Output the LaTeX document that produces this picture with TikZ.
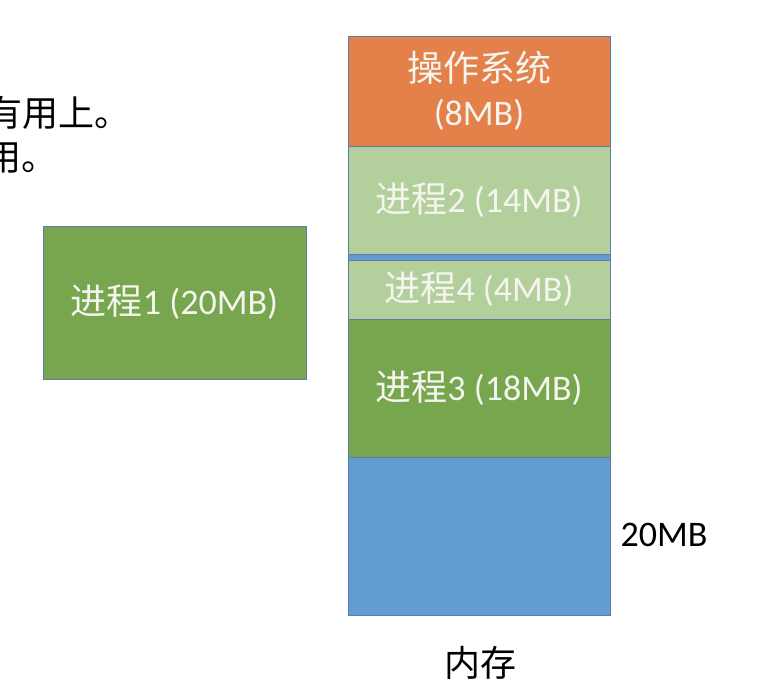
\documentclass[tikz,border=0pt]{standalone}
\usepackage{fontspec}
\setmainfont{Carlito}
\newfontfamily\cjk{Noto Sans CJK SC}
\definecolor{osorange}{HTML}{E4804A}
\definecolor{lightgreen}{HTML}{B3CF9B}
\definecolor{darkgreen}{HTML}{78A64F}
\definecolor{freeblue}{HTML}{619DD0}
\definecolor{blkline}{HTML}{5A7EA5}
\definecolor{blktext}{HTML}{F5F5EF}
\begin{document}
\begin{tikzpicture}[x=1pt,y=-1pt,
    blk/.style={draw=blkline,line width=0.8pt,inner sep=0pt,minimum width=262pt,
        text=blktext,font=\fontsize{36}{44}\selectfont,align=center},
    plain/.style={inner sep=0pt,font=\fontsize{36}{44}\selectfont}]
    \useasboundingbox (0,0) rectangle (768,694);
    \clip (0,0) rectangle (768,694);

    \node[plain,anchor=east] (lineA) at (131,113) {\cjk 有用上。};
    \node[plain,anchor=east] (lineB) at (58,158) {\cjk 用。};

    \node[blk,fill=freeblue,minimum height=579pt] (mem) at (479,325.5) {};
    \node[blk,fill=osorange,minimum height=110pt] (os) at (479,91) {{\cjk 操作系统}\\(8MB)};
    \node[blk,fill=lightgreen,minimum height=108pt] (p2) at (479,200) {{\cjk 进程}2 (14MB)};
    \node[blk,fill=lightgreen,minimum height=59pt] (p4) at (479,289.5) {{\cjk 进程}4 (4MB)};
    \node[blk,fill=darkgreen,minimum height=138pt] (p3) at (479,388) {{\cjk 进程}3 (18MB)};

    \node[blk,fill=darkgreen,minimum width=263pt,minimum height=153pt] (p1) at (174.5,302.5) {{\cjk 进程}1 (20MB)};

    \node[plain] (free) at (664,535) {20MB};
    \node[plain] (memlabel) at (480,663) {\cjk 内存};
\end{tikzpicture}
\end{document}
